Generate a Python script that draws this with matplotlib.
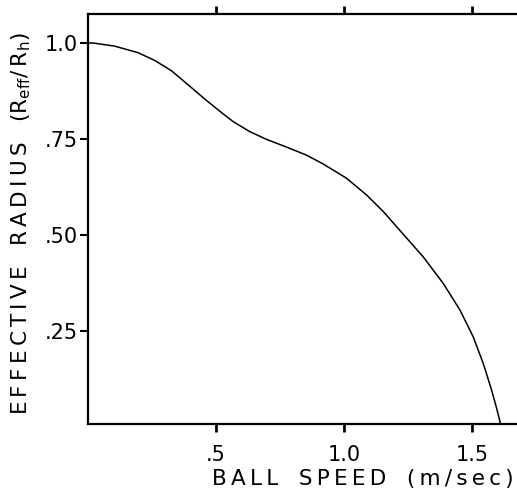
import matplotlib
matplotlib.use("Agg")
import matplotlib.pyplot as plt

# values
ball_speed = [0.0, 0.02, 0.104, 0.195, 0.26, 0.326, 0.39, 0.464, 0.516, 0.568, 0.633,
              0.698, 0.776, 0.854, 0.919, 1.01, 1.089, 1.154, 1.212, 1.31, 1.388,
              1.453, 1.505, 1.544, 1.577, 1.596, 1.613]
eff_radius = [1.0, 1.0, 0.992, 0.975, 0.955, 0.928, 0.892, 0.85, 0.822, 0.795, 0.769,
              0.749, 0.729, 0.708, 0.685, 0.648, 0.604, 0.561, 0.517, 0.443, 0.374,
              0.305, 0.235, 0.166, 0.096, 0.05, 0.005]

x_ticks = [0.5, 1.0, 1.5]
x_tick_labels = [".5", "1.0", "1.5"]
y_ticks = [1.0, 0.75, 0.5, 0.25]
y_tick_labels = ["1.0", ".75", ".50", ".25"]

THIN = "\u2009"


def spaced(word):
    # the original lettering is widely tracked
    return THIN.join(word)


plt.rcParams["font.family"] = "DejaVu Sans"
plt.rcParams["mathtext.default"] = "regular"

fig = plt.figure(figsize=(5.17, 4.95), dpi=100)
ax = fig.add_axes([0.170, 0.1434, 0.830, 0.8283])

ax.plot(ball_speed, eff_radius, color="black", lw=1.1)

ax.set_xlim(0, 1.676)
ax.set_ylim(0.008, 1.0755)

ax.set_xticks(x_ticks)
ax.set_xticklabels(x_tick_labels)
ax.set_yticks(y_ticks)
ax.set_yticklabels(y_tick_labels)

ax.tick_params(axis="x", which="both", direction="out", length=6, width=2,
               top=True, labelsize=15, pad=9)
ax.tick_params(axis="y", direction="out", length=6, width=1.5, labelsize=15, pad=1)

for side in ["left", "bottom", "top"]:
    ax.spines[side].set_linewidth(1.6)
ax.spines["right"].set_visible(False)

xlabel = spaced("BALL") + "   " + spaced("SPEED") + "   " + spaced("(m/sec)")
ylabel = (spaced("EFFECTIVE") + "   " + spaced("RADIUS") + "   "
          + "(" + "R$_{eff}$/" + THIN + "R$_h$" + ")")
ax.set_xlabel(xlabel, fontsize=15.5)
ax.xaxis.set_label_coords(0.64, -0.11)
ax.set_ylabel(ylabel, fontsize=15.5)
ax.yaxis.set_label_coords(-0.127, 0.49)

fig.savefig("out.png", dpi=100)
